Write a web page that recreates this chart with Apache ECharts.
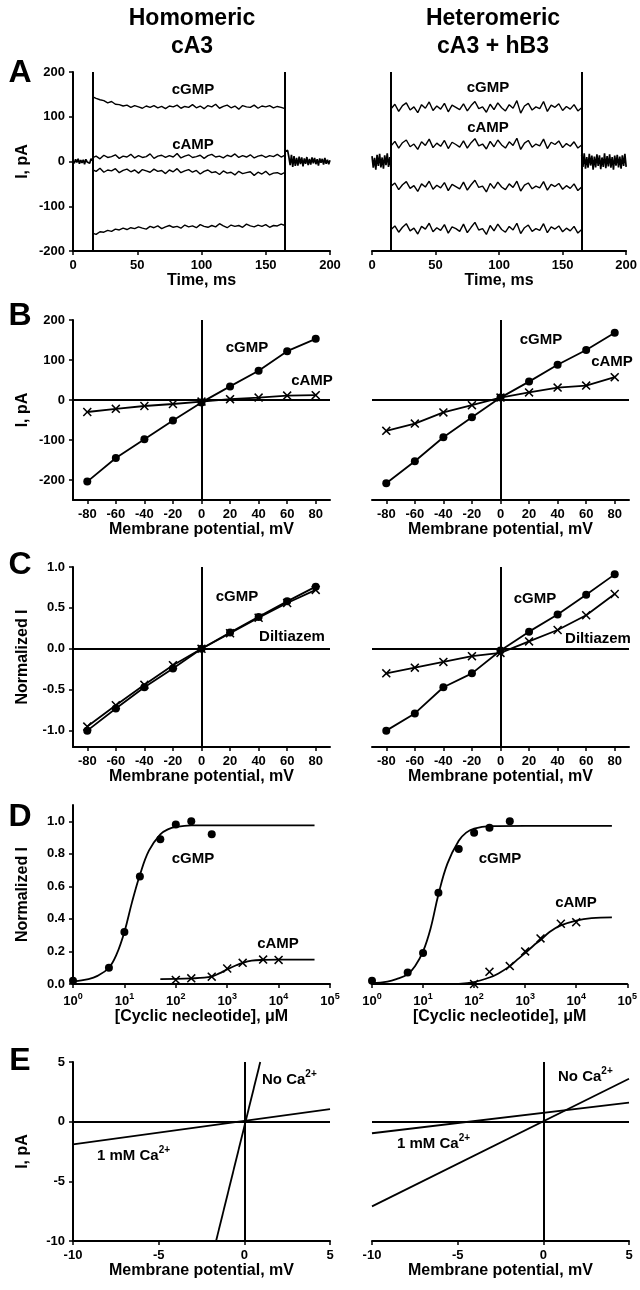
<!DOCTYPE html>
<html>
<head>
<meta charset="utf-8">
<script src="https://cdn.jsdelivr.net/npm/echarts@6/dist/echarts.min.js"></script>
<style>
  html, body { margin: 0; padding: 0; background: #fff; }
  #fig { width: 640px; height: 1290px; }
</style>
</head>
<body>
<div id="fig"></div>
<script>
// ---- panel A: current traces (pA) ----
const PRE_T = [0,1,2,3,4,5,6,7,8,9,10,11,12,13,14,15];
const STEP_T = [15,18,21,24,27,30,33,36,39,42,45,48,51,54,57,60,63,66,69,72,75,78,81,84,87,90,93,96,99,102,
  105,108,111,114,117,120,123,126,129,132,135,138,141,144,147,150,153,156,159,162,165];
const POST_T = [165,166,167,168,169,170,171,172,173,174,175,176,177,178,179,180,181,182,183,184,
  185,186,187,188,189,190,191,192,193,194,195,196,197,198,199,200];
const STEP_EDGES = [15, 165];

const A_HOMO_PRE = [2,-4,5,-2,6,-5,3,-3,4,-6,5,-1,3,-4,6,2];
const A_HOMO_POST = [22,18,25,10,-8,15,-12,12,-10,8,-9,11,-6,9,-11,7,-5,10,-8,6,
  -7,9,-4,8,-6,5,-9,7,-3,6,-7,8,-5,4,-6,3];
const A_HOMO_CGMP_POS = [145,141,138,136,131,134,128,127,124,126,121,125,122,119,124,121,125,120,123,118,
  124,122,126,119,123,121,127,120,124,118,125,122,128,119,123,126,120,124,117,125,
  122,121,126,119,124,122,125,120,123,121,118];
const A_HOMO_CAMP_POS = [8,12,6,14,9,11,15,7,12,10,16,8,13,9,11,17,7,12,14,9,
  13,10,18,8,12,15,9,11,14,7,13,16,10,12,8,14,11,17,9,13,
  10,15,8,12,14,9,13,11,16,10,14];
const A_HOMO_CAMP_NEG = [-18,-22,-15,-24,-19,-21,-16,-25,-20,-17,-23,-19,-26,-18,-21,-24,-17,-22,-20,-27,
  -19,-23,-16,-25,-21,-18,-24,-20,-28,-22,-19,-25,-23,-29,-21,-26,-24,-30,-22,-27,
  -25,-23,-31,-24,-28,-22,-30,-26,-25,-29,-24];
const A_HOMO_CGMP_NEG = [-160,-163,-157,-158,-154,-156,-151,-153,-149,-152,-148,-150,-146,-149,-151,-145,-148,-144,-150,-146,
  -143,-147,-145,-149,-142,-146,-144,-148,-141,-145,-147,-143,-146,-139,-144,-148,-142,-145,-143,-147,
  -140,-144,-146,-142,-145,-141,-147,-143,-144,-140,-143];

const A_HETERO_PRE = [12,-14,8,-18,15,-10,17,-13,9,-16,14,-8,18,-12,10,-15];
const A_HETERO_POST = [15,-12,18,-16,10,-14,17,-9,13,-18,11,-13,16,-10,14,-17,9,-12,18,-15,
  12,-11,16,-14,10,-18,13,-9,15,-13,11,-16,14,-10,17,-12];
const A_HETERO_CGMP_POS = [118,128,112,125,131,115,122,109,127,119,133,114,124,117,130,111,126,121,116,129,
  113,125,134,118,122,110,128,116,131,120,113,127,119,136,108,124,130,115,122,118,
  134,112,126,121,129,114,123,117,127,113,120];
const A_HETERO_CAMP_POS = [35,45,30,42,48,33,39,27,44,36,50,31,41,34,47,29,43,38,32,46,
  30,42,51,35,39,28,45,33,48,37,30,44,36,52,27,41,47,32,39,35,
  50,29,43,38,46,31,40,34,44,30,37];
const A_HETERO_CAMP_NEG = [-55,-48,-63,-52,-45,-60,-54,-67,-50,-57,-44,-62,-53,-59,-47,-65,-51,-56,-61,-46,
  -64,-52,-42,-58,-55,-68,-49,-60,-46,-57,-63,-50,-58,-44,-66,-53,-48,-61,-55,-59,
  -45,-64,-51,-56,-49,-62,-54,-60,-50,-65,-57];
const A_HETERO_CGMP_NEG = [-152,-144,-158,-147,-139,-155,-149,-162,-145,-151,-138,-157,-148,-154,-141,-160,-146,-150,-156,-140,
  -159,-147,-136,-153,-150,-163,-143,-155,-140,-152,-158,-145,-153,-138,-161,-148,-142,-156,-150,-154,
  -139,-159,-146,-151,-144,-157,-149,-155,-145,-160,-152];

// ---- panels B, C: I-V relations ----
const MV = [-80, -60, -40, -20, 0, 20, 40, 60, 80];
const B_HOMO_CGMP = [-204, -145, -98, -51, -6, 34, 73, 122, 153];
const B_HOMO_CAMP = [-30, -22, -15, -10, -4, 2, 6, 11, 12];
const B_HETERO_CGMP = [-208, -153, -93, -43, 6, 46, 88, 125, 168];
const B_HETERO_CAMP = [-77, -59, -31, -13, 6, 19, 31, 36, 57];
const C_HOMO_CGMP = [-1.0, -0.73, -0.47, -0.24, 0, 0.2, 0.39, 0.58, 0.76];
const C_HOMO_DILT = [-0.95, -0.69, -0.44, -0.2, 0, 0.19, 0.38, 0.56, 0.72];
const C_HETERO_CGMP = [-1.0, -0.79, -0.47, -0.3, -0.02, 0.21, 0.42, 0.66, 0.91];
const C_HETERO_DILT = [-0.3, -0.23, -0.16, -0.09, -0.05, 0.09, 0.23, 0.41, 0.67];

// ---- panel D: dose response ----
const D_CGMP_CONC = [1, 5, 10, 20, 50, 100, 200, 500];
const D_HOMO_CGMP = [0.02, 0.1, 0.32, 0.66, 0.89, 0.98, 1.0, 0.92];
const D_HETERO_CGMP = [0.02, 0.07, 0.19, 0.56, 0.83, 0.93, 0.96, 1.0];
const D_CAMP_CONC = [100, 200, 500, 1000, 2000, 5000, 10000];
const D_HOMO_CAMP = [0.025, 0.035, 0.045, 0.095, 0.13, 0.15, 0.148];
const D_HETERO_CAMP = [0.0, 0.075, 0.11, 0.2, 0.28, 0.37, 0.38];
const FIT_CGMP_CONC = [1, 2, 3, 5, 7, 10, 14, 20, 30, 50, 70, 100, 200, 1000, 50000];
const FIT_HOMO_CGMP = [0.015, 0.03, 0.05, 0.1, 0.18, 0.32, 0.5, 0.67, 0.82, 0.92, 0.95, 0.965, 0.975, 0.975, 0.975];
const FIT_HETERO_CGMP = [0.005, 0.015, 0.03, 0.06, 0.11, 0.2, 0.34, 0.55, 0.74, 0.88, 0.93, 0.955, 0.97, 0.972, 0.972];
const FIT_CAMP_CONC = [50, 100, 200, 300, 500, 700, 1000, 1500, 2000, 3000, 5000, 10000, 20000, 50000];
const FIT_HOMO_CAMP = [0.03, 0.031, 0.034, 0.038, 0.045, 0.065, 0.09, 0.115, 0.13, 0.143, 0.148, 0.15, 0.15, 0.15];
const FIT_HETERO_CAMP = [0, 0.012, 0.04, 0.065, 0.11, 0.15, 0.19, 0.24, 0.27, 0.32, 0.36, 0.39, 0.405, 0.41];

// ---- panel E: single-channel I-V ----
const E_HOMO_NOCA_V = [-1.65, 0.93];
const E_HOMO_NOCA_I = [-10, 5];
const E_HOMO_CA_V = [-10, 5];
const E_HOMO_CA_I = [-1.9, 1.05];
const E_HETERO_NOCA_V = [-10, 5];
const E_HETERO_NOCA_I = [-7.1, 3.6];
const E_HETERO_CA_V = [-10, 5];
const E_HETERO_CA_I = [-0.97, 1.6];

// tick values
const B_TICKS = [-200, -100, 0, 100, 200];
const C_TICKS = [-1, -0.5, 0, 0.5, 1];
const D_TICKS = [0, 0.2, 0.4, 0.6, 0.8, 1.0];

const FONT = '"Liberation Sans", Arial, sans-serif';
const BLACK = '#000';
const CROSS = 'path://M0,1.2L1.2,0L5,3.8L8.8,0L10,1.2L6.2,5L10,8.8L8.8,10L5,6.2L1.2,10L0,8.8L3.8,5Z';

const chart = echarts.init(document.getElementById('fig'));

function merge(a, b) {
  const out = Object.assign({}, a);
  Object.keys(b || {}).forEach(k => {
    const v = b[k];
    out[k] = (v && typeof v === 'object' && !Array.isArray(v) && a[k] && typeof a[k] === 'object')
      ? merge(a[k], v) : v;
  });
  return out;
}

const baseAxis = {
  type: 'value',
  nameLocation: 'middle',
  nameTextStyle: { fontFamily: FONT, fontWeight: 'bold', fontSize: 16, color: BLACK },
  axisLine: { show: true, onZero: false, lineStyle: { color: BLACK, width: 2 } },
  axisTick: { show: true, length: 4, lineStyle: { color: BLACK, width: 1.5 } },
  axisLabel: { fontFamily: FONT, fontWeight: 'bold', fontSize: 13, color: BLACK, margin: 8 },
  splitLine: { show: false },
};

const fmt1 = v => v.toFixed(1);
const supLabel = {
  formatter: v => '{m|10}{s|' + Math.round(Math.log10(v)) + '}',
  rich: {
    m: { fontFamily: FONT, fontWeight: 'bold', fontSize: 13, color: BLACK, lineHeight: 18 },
    s: { fontFamily: FONT, fontWeight: 'bold', fontSize: 9, color: BLACK, verticalAlign: 'top' },
  },
};

// one spec per row: grid placement and axes
const ROWS = [
  { top: 72, h: 179,
    x: { min: 0, max: 200, interval: 50, name: 'Time, ms' },
    y: { min: -200, max: 200, interval: 100, name: 'I, pA' } },
  { top: 320, h: 180,
    x: { min: -90, max: 90, name: 'Membrane potential, mV', axisTick: { customValues: MV }, axisLabel: { customValues: MV } },
    y: { min: -250, max: 200, name: 'I, pA', axisTick: { customValues: B_TICKS }, axisLabel: { customValues: B_TICKS } } },
  { top: 567, h: 180,
    x: { min: -90, max: 90, name: 'Membrane potential, mV', axisTick: { customValues: MV }, axisLabel: { customValues: MV } },
    y: { min: -1.2, max: 1.0, name: 'Normalized I', axisTick: { customValues: C_TICKS }, axisLabel: { customValues: C_TICKS, formatter: fmt1 } } },
  { top: 805, h: 179,
    x: { type: 'log', logBase: 10, min: 1, max: 100000, name: '[Cyclic necleotide], μM', axisLabel: supLabel },
    y: { min: 0, max: 1.1, name: 'Normalized I', axisTick: { customValues: D_TICKS }, axisLabel: { customValues: D_TICKS, formatter: fmt1 } } },
  { top: 1062, h: 179,
    x: { min: -10, max: 5, interval: 5, name: 'Membrane potential, mV' },
    y: { min: -10, max: 5, interval: 5, name: 'I, pA' } },
];
const COL_LEFT = [73, 372];

const grid = [], xAxis = [], yAxis = [];
ROWS.forEach((row, r) => {
  COL_LEFT.forEach((left, c) => {
    const i = r * 2 + c;
    grid.push({ left: left, top: row.top, width: 257, height: row.h });
    xAxis.push(merge(merge(baseAxis, { gridIndex: i, nameGap: 22 }), row.x));
    const y = merge(merge(baseAxis, { gridIndex: i, nameGap: 42 }), row.y);
    if (c === 1) y.show = false;
    yAxis.push(y);
  });
});

const pairs = (xs, ys) => xs.map((x, k) => [x, ys[k]]);

function line(i, xs, ys, opts) {
  return merge({
    type: 'line', xAxisIndex: i, yAxisIndex: i,
    data: pairs(xs, ys),
    symbol: 'none', showSymbol: true,
    lineStyle: { color: BLACK, width: 1.8 },
    itemStyle: { color: BLACK },
    silent: true, animation: false,
  }, opts);
}

const dots = { symbol: 'circle', symbolSize: 8 };
const crosses = { symbol: CROSS, symbolSize: 9 };
const trace = { lineStyle: { width: 1.4 } };
const band = { lineStyle: { width: 1.7 } };

function vhMark(data, width) {
  return {
    markLine: {
      silent: true, animation: false, symbol: ['none', 'none'],
      label: { show: false },
      lineStyle: { color: BLACK, width: width, type: 'solid' },
      data: data,
    },
  };
}
const ZERO = [{ xAxis: 0 }, { yAxis: 0 }];
const EDGES = STEP_EDGES.map(t => ({ xAxis: t }));

const series = [
  // A homomeric
  line(0, PRE_T, A_HOMO_PRE, merge(band, vhMark(EDGES, 2))),
  line(0, POST_T, A_HOMO_POST, band),
  line(0, STEP_T, A_HOMO_CGMP_POS, trace),
  line(0, STEP_T, A_HOMO_CAMP_POS, trace),
  line(0, STEP_T, A_HOMO_CAMP_NEG, trace),
  line(0, STEP_T, A_HOMO_CGMP_NEG, trace),
  // A heteromeric
  line(1, PRE_T, A_HETERO_PRE, merge(band, vhMark(EDGES, 2))),
  line(1, POST_T, A_HETERO_POST, band),
  line(1, STEP_T, A_HETERO_CGMP_POS, trace),
  line(1, STEP_T, A_HETERO_CAMP_POS, trace),
  line(1, STEP_T, A_HETERO_CAMP_NEG, trace),
  line(1, STEP_T, A_HETERO_CGMP_NEG, trace),
  // B
  line(2, MV, B_HOMO_CGMP, merge(dots, vhMark(ZERO, 2))),
  line(2, MV, B_HOMO_CAMP, crosses),
  line(3, MV, B_HETERO_CGMP, merge(dots, vhMark(ZERO, 2))),
  line(3, MV, B_HETERO_CAMP, crosses),
  // C
  line(4, MV, C_HOMO_CGMP, merge(dots, vhMark(ZERO, 2))),
  line(4, MV, C_HOMO_DILT, crosses),
  line(5, MV, C_HETERO_CGMP, merge(dots, vhMark(ZERO, 2))),
  line(5, MV, C_HETERO_DILT, crosses),
  // D fits
  line(6, FIT_CGMP_CONC, FIT_HOMO_CGMP, { smooth: 0.4 }),
  line(6, FIT_CAMP_CONC, FIT_HOMO_CAMP, { smooth: 0.4 }),
  line(7, FIT_CGMP_CONC, FIT_HETERO_CGMP, { smooth: 0.4 }),
  line(7, FIT_CAMP_CONC, FIT_HETERO_CAMP, { smooth: 0.4 }),
  // D points
  line(6, D_CGMP_CONC, D_HOMO_CGMP, merge(dots, { lineStyle: { width: 0 } })),
  line(6, D_CAMP_CONC, D_HOMO_CAMP, merge(crosses, { lineStyle: { width: 0 } })),
  line(7, D_CGMP_CONC, D_HETERO_CGMP, merge(dots, { lineStyle: { width: 0 } })),
  line(7, D_CAMP_CONC, D_HETERO_CAMP, merge(crosses, { lineStyle: { width: 0 } })),
  // E
  line(8, E_HOMO_NOCA_V, E_HOMO_NOCA_I, vhMark(ZERO, 2)),
  line(8, E_HOMO_CA_V, E_HOMO_CA_I),
  line(9, E_HETERO_NOCA_V, E_HETERO_NOCA_I, vhMark(ZERO, 2)),
  line(9, E_HETERO_CA_V, E_HETERO_CA_I),
];

// text annotations
function text(x, y, str, size, align) {
  return {
    type: 'text', x: x, y: y, silent: true,
    style: {
      text: str, fontFamily: FONT, fontWeight: 'bold', fontSize: size, fill: BLACK,
      align: align || 'center', verticalAlign: 'middle',
    },
  };
}
function caText(x, y, str) {
  return {
    type: 'text', x: x, y: y, silent: true,
    style: {
      text: '{a|' + str + '}{s|2+}', align: 'left', verticalAlign: 'middle',
      rich: {
        a: { fontFamily: FONT, fontWeight: 'bold', fontSize: 15, fill: BLACK, lineHeight: 22 },
        s: { fontFamily: FONT, fontWeight: 'bold', fontSize: 10, fill: BLACK, verticalAlign: 'top' },
      },
    },
  };
}

const graphic = [
  text(192, 19, 'Homomeric', 23), text(192, 47, 'cA3', 23),
  text(493, 19, 'Heteromeric', 23), text(493, 47, 'cA3 + hB3', 23),
  text(20, 73, 'A', 32), text(20, 316, 'B', 32), text(20, 565, 'C', 32),
  text(20, 817, 'D', 32), text(20, 1061, 'E', 32),
  text(193, 90, 'cGMP', 15), text(193, 145, 'cAMP', 15),
  text(488, 88, 'cGMP', 15), text(488, 128, 'cAMP', 15),
  text(247, 348, 'cGMP', 15), text(312, 381, 'cAMP', 15),
  text(541, 340, 'cGMP', 15), text(612, 362, 'cAMP', 15),
  text(237, 597, 'cGMP', 15), text(292, 637, 'Diltiazem', 15),
  text(535, 599, 'cGMP', 15), text(598, 639, 'Diltiazem', 15),
  text(193, 859, 'cGMP', 15), text(278, 944, 'cAMP', 15),
  text(500, 859, 'cGMP', 15), text(576, 903, 'cAMP', 15),
  caText(262, 1080, 'No Ca'), caText(97, 1156, '1 mM Ca'),
  caText(558, 1077, 'No Ca'), caText(397, 1144, '1 mM Ca'),
];

chart.setOption({
  animation: false,
  backgroundColor: '#fff',
  grid: grid,
  xAxis: xAxis,
  yAxis: yAxis,
  series: series,
  graphic: graphic,
});
</script>
</body>
</html>
